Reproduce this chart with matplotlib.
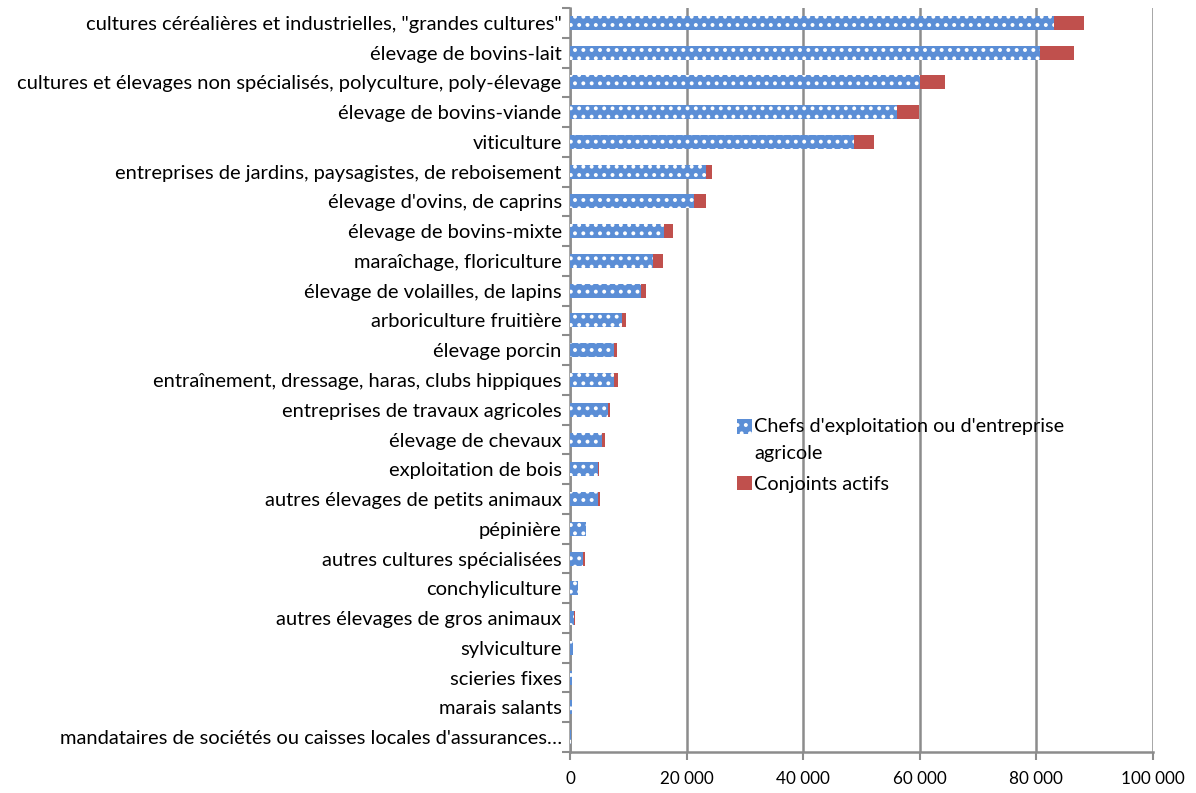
import matplotlib
matplotlib.use("Agg")
import matplotlib.pyplot as plt
from matplotlib.ticker import FuncFormatter, FixedLocator
from matplotlib.patches import Patch, Rectangle
from matplotlib.legend_handler import HandlerPatch

categories = [
    'cultures céréalières et industrielles, "grandes cultures"',
    "élevage de bovins-lait",
    "cultures et élevages non spécialisés, polyculture, poly-élevage",
    "élevage de bovins-viande",
    "viticulture",
    "entreprises de jardins, paysagistes, de reboisement",
    "élevage d'ovins, de caprins",
    "élevage de bovins-mixte",
    "maraîchage, floriculture",
    "élevage de volailles, de lapins",
    "arboriculture fruitière",
    "élevage porcin",
    "entraînement, dressage, haras, clubs hippiques",
    "entreprises de travaux agricoles",
    "élevage de chevaux",
    "exploitation de bois",
    "autres élevages de petits animaux",
    "pépinière",
    "autres cultures spécialisées",
    "conchyliculture",
    "autres élevages de gros animaux",
    "sylviculture",
    "scieries fixes",
    "marais salants",
    "mandataires de sociétés ou caisses locales d'assurances…",
]
chefs = [83000, 80600, 60100, 56100, 48700, 23400, 21200, 16200, 14200, 12100,
         8900, 7500, 7500, 6600, 5500, 4800, 4800, 2700, 2300, 1300,
         700, 450, 300, 300, 150]
conjoints = [5200, 5800, 4300, 3700, 3400, 900, 2100, 1500, 1800, 1000,
             700, 500, 700, 200, 500, 200, 400, 100, 200, 100,
             100, 50, 50, 50, 30]
series_names = ["Chefs d'exploitation ou d'entreprise\nagricole", "Conjoints actifs"]
x_ticks = [0, 20000, 40000, 60000, 80000, 100000]

plt.rcParams["font.family"] = ["Lato", "DejaVu Sans"]
plt.rcParams["hatch.linewidth"] = 1.6

BLUE = "#5B8ED6"
RED = "#C0504D"
GRID = "#8C8C8C"

fig = plt.figure(figsize=(11.96, 7.93), dpi=100)
ax = fig.add_axes([570 / 1196, 1 - 752 / 793, (1153 - 570) / 1196, (752 - 8) / 793])

y = list(range(len(categories)))
ax.barh(y, chefs, height=0.47, color=BLUE, edgecolor="white", linewidth=0,
        hatch="..", zorder=3)
ax.barh(y, conjoints, left=chefs, height=0.47, color=RED, linewidth=0, zorder=3)

ax.set_xlim(0, 100000)
ax.set_ylim(len(categories) - 0.5, -0.5)

ax.set_xticks(x_ticks)
ax.xaxis.set_major_formatter(FuncFormatter(lambda v, p: f"{int(v):,}".replace(",", " ")))
ax.grid(axis="x", color=GRID, linewidth=1.8, zorder=0)

ax.yaxis.set_major_locator(FixedLocator([i + 0.5 for i in range(-1, len(categories))]))
ax.yaxis.set_major_formatter(FuncFormatter(lambda v, p: ""))
ax.yaxis.set_minor_locator(FixedLocator(y))
ax.set_yticklabels(categories, minor=True)
ax.tick_params(axis="y", which="major", length=6, width=1.5, color=GRID)
ax.tick_params(axis="y", which="minor", length=0, pad=6, labelsize=14.5, labelcolor="#000000")
ax.tick_params(axis="x", length=6, width=1.5, color=GRID, labelsize=12.3, pad=8)

for s in ["top", "right"]:
    ax.spines[s].set_visible(False)
for s in ["left", "bottom"]:
    ax.spines[s].set_color(GRID)
    ax.spines[s].set_linewidth(1.8)


def top_aligned(legend, orig_handle, xdescent, ydescent, width, height, fontsize):
    return Rectangle((-xdescent, -ydescent + 9.5), width, height)


handles = [Patch(facecolor=BLUE, edgecolor="white", linewidth=0, hatch=".."),
           Patch(facecolor=RED, linewidth=0)]
leg = fig.legend(handles, series_names, loc="upper left", bbox_to_anchor=(719 / 1196, 1 - 400 / 793),
                 frameon=False, fontsize=14.3, handlelength=0.75, handleheight=0.75,
                 handletextpad=0.12, labelspacing=0.7,
                 handler_map={handles[0]: HandlerPatch(patch_func=top_aligned)})
for t in leg.get_texts():
    t.set_linespacing(1.7)

fig.savefig("out.png", dpi=100)
